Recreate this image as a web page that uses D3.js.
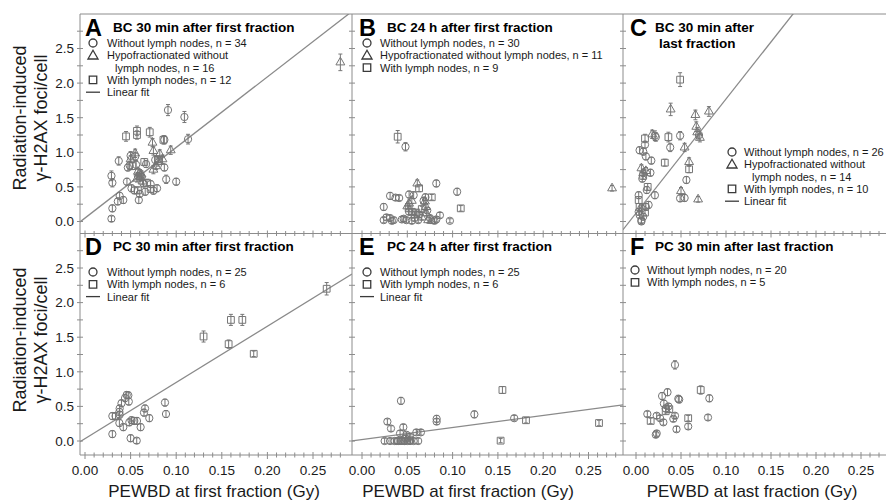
<!DOCTYPE html>
<html><head><meta charset="utf-8">
<script src="https://cdn.jsdelivr.net/npm/d3@7"></script>
<style>body{margin:0;background:#fff}svg{display:block}text{font-family:"Liberation Sans",Arial,sans-serif}</style>
</head><body><svg id="c" width="886" height="502"></svg>
<script>
// ---------- data: [PEWBD (Gy), foci/cell, error] ----------
const A_circle=[[0.091,1.61,0.08],[0.109,1.51,0.08],[0.113,1.19,0.07],[0.087,1.18,0.06],[0.037,0.875,0.06],[0.050,0.95,0.06],[0.055,0.94,0.06],[0.067,0.83,0.05],[0.077,0.89,0.06],[0.087,0.78,0.05],[0.089,0.61,0.06],[0.100,0.575,0.05],[0.029,0.66,0.07],[0.030,0.56,0.06],[0.046,0.575,0.05],[0.051,0.48,0.05],[0.038,0.37,0.05],[0.042,0.31,0.05],[0.036,0.29,0.05],[0.059,0.31,0.05],[0.030,0.19,0.05],[0.029,0.04,0.04],[0.066,0.43,0.05],[0.075,0.445,0.05],[0.079,0.48,0.05],[0.056,0.82,0.06],[0.049,0.81,0.06],[0.058,0.66,0.05],[0.062,0.64,0.05],[0.054,0.45,0.05],[0.060,0.40,0.05],[0.064,0.55,0.05],[0.072,0.54,0.05],[0.047,0.78,0.05]];
const A_triangle=[[0.074,1.14,0.06],[0.075,1.02,0.06],[0.094,1.03,0.06],[0.082,0.975,0.06],[0.055,0.985,0.06],[0.060,0.70,0.05],[0.058,0.72,0.05],[0.062,0.68,0.05],[0.057,0.62,0.05],[0.075,0.75,0.06],[0.080,0.86,0.06],[0.085,0.90,0.06],[0.063,0.58,0.05],[0.078,0.80,0.05],[0.050,0.90,0.05],[0.280,2.30,0.12]];
const A_square=[[0.045,1.23,0.07],[0.057,1.31,0.07],[0.057,1.25,0.06],[0.071,1.29,0.07],[0.086,1.18,0.06],[0.068,0.56,0.05],[0.052,0.80,0.05],[0.060,0.65,0.05],[0.065,0.86,0.05],[0.072,0.47,0.05],[0.080,0.90,0.05],[0.058,0.45,0.05]];

const B_circle=[[0.048,1.08,0.06],[0.082,0.55,0.05],[0.105,0.43,0.05],[0.031,0.37,0.05],[0.037,0.345,0.04],[0.041,0.34,0.04],[0.052,0.39,0.05],[0.057,0.38,0.05],[0.024,0.21,0.05],[0.024,0.02,0.04],[0.031,0.05,0.04],[0.033,0.01,0.04],[0.046,0.04,0.04],[0.049,0.02,0.04],[0.055,0.01,0.04],[0.080,0.01,0.04],[0.086,0.09,0.04],[0.097,0.01,0.03],[0.027,0.06,0.04],[0.044,0.03,0.04],[0.052,0.14,0.04],[0.058,0.05,0.04],[0.063,0.10,0.04],[0.068,0.30,0.05],[0.072,0.16,0.04],[0.075,0.05,0.04],[0.062,0.02,0.04],[0.035,0.02,0.04],[0.070,0.35,0.05],[0.082,0.03,0.04]];
const B_triangle=[[0.061,0.55,0.05],[0.052,0.26,0.05],[0.0695,0.29,0.05],[0.0706,0.21,0.05],[0.071,0.12,0.04],[0.073,0.02,0.04],[0.077,0.01,0.04],[0.050,0.22,0.04],[0.066,0.06,0.04],[0.055,0.30,0.04],[0.276,0.48,0.04]];
const B_square=[[0.0394,1.225,0.09],[0.063,0.48,0.05],[0.109,0.19,0.04],[0.077,0.35,0.04],[0.0515,0.19,0.04],[0.055,0.14,0.04],[0.060,0.13,0.04],[0.066,0.18,0.04],[0.058,0.10,0.04]];

const C_circle=[[0.021,1.24,0.07],[0.022,1.22,0.06],[0.049,1.24,0.06],[0.038,1.07,0.06],[0.004,1.03,0.05],[0.008,1.01,0.05],[0.010,1.11,0.05],[0.011,0.94,0.05],[0.017,0.88,0.05],[0.016,0.705,0.05],[0.007,0.62,0.05],[0.056,0.60,0.05],[0.021,0.38,0.05],[0.049,0.335,0.05],[0.054,0.34,0.05],[0.003,0.38,0.05],[0.012,0.455,0.05],[0.006,0.19,0.05],[0.011,0.21,0.05],[0.014,0.24,0.05],[0.004,0.094,0.05],[0.008,0.07,0.05],[0.006,0.02,0.04],[0.003,0.14,0.05],[0.006,0.0,0.04],[0.070,1.25,0.06]];
const C_triangle=[[0.0385,1.62,0.09],[0.066,1.54,0.07],[0.081,1.59,0.07],[0.018,1.26,0.06],[0.054,1.07,0.06],[0.067,1.37,0.07],[0.068,1.29,0.07],[0.071,1.21,0.06],[0.059,0.86,0.06],[0.006,0.77,0.05],[0.008,0.70,0.05],[0.050,0.44,0.05],[0.069,0.32,0.04],[0.011,0.73,0.05]];
const C_square=[[0.049,2.05,0.1],[0.036,1.22,0.07],[0.010,1.20,0.06],[0.032,0.85,0.05],[0.059,0.755,0.05],[0.013,0.50,0.05],[0.003,0.31,0.05],[0.004,0.21,0.05],[0.010,0.13,0.05],[0.008,0.66,0.05]];

const D_circle=[[0.0877,0.555,0.05],[0.0888,0.39,0.05],[0.0658,0.47,0.05],[0.0647,0.41,0.05],[0.0705,0.33,0.05],[0.0457,0.665,0.05],[0.0475,0.66,0.05],[0.048,0.57,0.05],[0.0439,0.62,0.05],[0.040,0.545,0.05],[0.038,0.47,0.05],[0.0377,0.42,0.05],[0.030,0.36,0.05],[0.0336,0.36,0.05],[0.038,0.38,0.05],[0.0377,0.26,0.05],[0.042,0.20,0.05],[0.0486,0.27,0.05],[0.051,0.30,0.05],[0.054,0.29,0.05],[0.057,0.29,0.05],[0.061,0.20,0.05],[0.030,0.10,0.05],[0.050,0.04,0.05],[0.0567,0.005,0.04]];
const D_square=[[0.130,1.51,0.08],[0.160,1.75,0.08],[0.1725,1.75,0.08],[0.1575,1.40,0.06],[0.185,1.26,0.04],[0.265,2.20,0.09]];

const E_circle=[[0.043,0.58,0.05],[0.0824,0.32,0.05],[0.0824,0.28,0.04],[0.028,0.28,0.04],[0.032,0.18,0.04],[0.0456,0.20,0.04],[0.060,0.125,0.04],[0.065,0.125,0.04],[0.042,0.11,0.04],[0.049,0.09,0.04],[0.053,0.06,0.04],[0.025,0.0,0.04],[0.031,0.0,0.04],[0.036,0.0,0.04],[0.040,0.0,0.04],[0.043,0.0,0.04],[0.047,0.0,0.04],[0.050,0.0,0.04],[0.053,0.0,0.04],[0.057,0.0,0.04],[0.062,0.0,0.04],[0.048,0.04,0.04],[0.124,0.385,0.05],[0.168,0.33,0.04],[0.0385,0.0,0.04]];
const E_square=[[0.155,0.737,0.05],[0.181,0.30,0.04],[0.153,0.005,0.03],[0.2616,0.26,0.04],[0.045,0.0,0.03],[0.052,0.02,0.03]];

const F_circle=[[0.0433,1.10,0.06],[0.0815,0.617,0.05],[0.048,0.60,0.05],[0.029,0.65,0.05],[0.035,0.705,0.05],[0.031,0.54,0.05],[0.033,0.47,0.05],[0.0126,0.39,0.04],[0.023,0.365,0.04],[0.0267,0.33,0.04],[0.0304,0.27,0.04],[0.0415,0.32,0.04],[0.0433,0.365,0.04],[0.058,0.21,0.04],[0.045,0.17,0.04],[0.080,0.34,0.04],[0.022,0.09,0.04],[0.023,0.11,0.04],[0.047,0.61,0.05],[0.036,0.50,0.04]];
const F_square=[[0.0719,0.737,0.06],[0.033,0.43,0.04],[0.0163,0.29,0.04],[0.058,0.33,0.04],[0.037,0.46,0.04]];

// linear fits: [intercept, slope]
const fitA=[0.05,10.2], fitC=[0.12,16.5], fitD=[0.035,8.12], fitE=[0.02,1.74];

const yTickLabels=["0.0","0.5","1.0","1.5","2.0","2.5"];
const xTickLabels=["0.00","0.05","0.10","0.15","0.20","0.25"];

const panels=[
 {letter:"A",col:0,row:0,title:["BC 30 min after first fraction"],series:{circle:A_circle,triangle:A_triangle,square:A_square},fit:fitA,
  legend:{x:93,y:43,tx:107,items:[["circle","Without lymph nodes, n = 34"],["triangle","Hypofractionated without"],[null,"lymph nodes, n = 16"],["square","With lymph nodes, n = 12"],["line","Linear fit"]]}},
 {letter:"B",col:1,row:0,title:["BC 24 h after first fraction"],series:{circle:B_circle,triangle:B_triangle,square:B_square},fit:null,
  legend:{x:367,y:43,tx:380,items:[["circle","Without lymph nodes, n = 30"],["triangle","Hypofractionated without lymph nodes, n = 11"],["square","With lymph nodes, n = 9"]]}},
 {letter:"C",col:2,row:0,title:["BC 30 min after","last fraction"],series:{circle:C_circle,triangle:C_triangle,square:C_square},fit:fitC,
  legend:{x:732,y:152,tx:744,items:[["circle","Without lymph nodes, n = 26"],["triangle","Hypofractionated without"],[null,"lymph nodes, n = 14"],["square","With lymph nodes, n = 10"],["line","Linear fit"]]}},
 {letter:"D",col:0,row:1,title:["PC 30 min after first fraction"],series:{circle:D_circle,square:D_square},fit:fitD,
  legend:{x:93,y:272,tx:107,items:[["circle","Without lymph nodes, n = 25"],["square","With lymph nodes, n = 6"],["line","Linear fit"]]}},
 {letter:"E",col:1,row:1,title:["PC 24 h after first fraction"],series:{circle:E_circle,square:E_square},fit:fitE,
  legend:{x:367,y:272,tx:380,items:[["circle","Without lymph nodes, n = 25"],["square","With lymph nodes, n = 6"],["line","Linear fit"]]}},
 {letter:"F",col:2,row:1,title:["PC 30 min after last fraction"],series:{circle:F_circle,square:F_square},fit:null,
  legend:{x:635,y:270,tx:647,items:[["circle","Without lymph nodes, n = 20"],["square","With lymph nodes, n = 5"]]}}
];

// ---------- layout ----------
const colLeft=[80,352,623], colRight=[352,623,895], colZero=[85,362,636], colK=[912,906,900];
const rowTop=[14,233.5], rowBot=[233.5,455], rowZero=[221.5,441], rowK=69.2;
const xTitles=["PEWBD at first fraction (Gy)","PEWBD at first fraction (Gy)","PEWBD at last fraction (Gy)"];
const xTitleX=[214,468,752];
const AX="#8c8c8c", PT="#767676", LEG="#3a3a3a", TXT="#1a1a1a";

const svg=d3.select("#c");
function xs(c){return d3.scaleLinear().domain([(colLeft[c]-colZero[c])/colK[c],(colRight[c]-colZero[c])/colK[c]]).range([colLeft[c],colRight[c]]);}
function ys(r){return d3.scaleLinear().domain([(rowZero[r]-rowBot[r])/rowK,(rowZero[r]-rowTop[r])/rowK]).range([rowBot[r],rowTop[r]]);}

const sym={
 circle:d3.symbol().type(d3.symbolCircle).size(42),
 triangle:d3.symbol().type(d3.symbolTriangle).size(34),
 square:d3.symbol().type(d3.symbolSquare).size(46)
};
const symLeg={
 circle:d3.symbol().type(d3.symbolCircle).size(50),
 triangle:d3.symbol().type(d3.symbolTriangle).size(44),
 square:d3.symbol().type(d3.symbolSquare).size(56)
};

const defs=svg.append("defs");
panels.forEach((p,i)=>{
  defs.append("clipPath").attr("id","cl"+i).append("rect")
   .attr("x",colLeft[p.col]).attr("y",rowTop[p.row]).attr("width",colRight[p.col]-colLeft[p.col]).attr("height",rowBot[p.row]-rowTop[p.row]);
});

svg.append("line").attr("x1",80).attr("x2",886).attr("y1",14).attr("y2",14).attr("stroke",AX);

panels.forEach((p,i)=>{
  const x=xs(p.col), y=ys(p.row);
  const g=svg.append("g");
  g.append("line").attr("x1",colLeft[p.col]).attr("x2",colLeft[p.col]).attr("y1",rowTop[p.row]).attr("y2",rowBot[p.row]).attr("stroke",AX);
  d3.range(0,2.76,0.25).forEach(v=>{
    g.append("line").attr("x1",colLeft[p.col]-3).attr("x2",colLeft[p.col]+3).attr("y1",y(v)).attr("y2",y(v)).attr("stroke",AX);
  });
  g.append("line").attr("x1",colLeft[p.col]).attr("x2",colRight[p.col]).attr("y1",rowBot[p.row]).attr("y2",rowBot[p.row]).attr("stroke",AX);
  d3.range(0,29).forEach(k=>{
    const v=k/100, px=x(v); if(px>colRight[p.col]-1) return;
    const major=k%5===0;
    g.append("line").attr("x1",px).attr("x2",px).attr("y1",rowBot[p.row]-(major?3:2.5)).attr("y2",rowBot[p.row]+(major?4:2.5)).attr("stroke",AX);
  });
  if(p.col===0){
    yTickLabels.forEach(t=>{
      g.append("text").attr("x",74).attr("y",y(+t)).attr("dy","0.36em").attr("text-anchor","end")
       .attr("font-size",13.5).attr("fill",TXT).text(t);
    });
  }
  if(p.row===1){
    xTickLabels.forEach(t=>{
      g.append("text").attr("x",x(+t)).attr("y",475).attr("text-anchor","middle").attr("font-size",13.5).attr("fill",TXT).text(t);
    });
  }
  const pg=svg.append("g").attr("clip-path","url(#cl"+i+")");
  if(p.fit){
    const d=x.domain();
    pg.append("line").attr("x1",x(d[0])).attr("y1",y(p.fit[0]+p.fit[1]*d[0]))
      .attr("x2",x(d[1])).attr("y2",y(p.fit[0]+p.fit[1]*d[1])).attr("stroke","#8a8a8a").attr("stroke-width",1.3);
  }
  Object.entries(p.series).forEach(([k,arr])=>{
    const sg=pg.append("g").selectAll("g").data(arr).join("g").attr("transform",d=>`translate(${x(d[0])},${y(d[1])})`);
    sg.append("path").attr("d",sym[k]()).attr("fill","none").attr("stroke",PT).attr("stroke-width",1);
    sg.append("line").attr("x1",0).attr("x2",0).attr("y1",d=>y(d[1]+d[2])-y(d[1])).attr("y2",d=>y(d[1]-d[2])-y(d[1])).attr("stroke",PT).attr("stroke-width",1);
    sg.append("line").attr("x1",-2).attr("x2",2).attr("y1",d=>y(d[1]+d[2])-y(d[1])).attr("y2",d=>y(d[1]+d[2])-y(d[1])).attr("stroke",PT);
    sg.append("line").attr("x1",-2).attr("x2",2).attr("y1",d=>y(d[1]-d[2])-y(d[1])).attr("y2",d=>y(d[1]-d[2])-y(d[1])).attr("stroke",PT);
  });
  const lx=colLeft[p.col]+(p.col===0?5:7), ty=rowTop[p.row];
  svg.append("text").attr("x",lx).attr("y",ty+21.5).attr("font-size",23.5).attr("font-weight","bold").attr("fill","#000").text(p.letter);
  p.title.forEach((t,j)=>{
    svg.append("text").attr("x",lx+(p.col===2?25:28)+(j*4)).attr("y",ty+17.5+j*16).attr("font-size",13.5).attr("font-weight","bold").attr("fill","#000").text(t);
  });
  const L=p.legend;
  L.items.forEach((it,j)=>{
    const cy=L.y+j*12.3;
    if(it[0]==="line"){
      svg.append("line").attr("x1",L.x-7).attr("x2",L.x+7).attr("y1",cy).attr("y2",cy).attr("stroke",LEG).attr("stroke-width",1.3);
    } else if(it[0]){
      svg.append("path").attr("d",symLeg[it[0]]()).attr("transform",`translate(${L.x},${cy+(it[0]==="triangle"?0.8:0)})`).attr("fill","none").attr("stroke",LEG).attr("stroke-width",1.3);
    }
    svg.append("text").attr("x",it[0]?L.tx:L.tx+8).attr("y",cy).attr("dy","0.36em").attr("font-size",11).attr("fill",TXT).text(it[1]);
  });
});

xTitles.forEach((t,i)=>{
  svg.append("text").attr("x",xTitleX[i]).attr("y",497).attr("text-anchor","middle").attr("font-size",17).attr("fill",TXT).text(t);
});
[118,340].forEach(cy=>{
  svg.append("text").attr("transform",`translate(26,${cy}) rotate(-90)`).attr("text-anchor","middle").attr("font-size",18).attr("fill",TXT).text("Radiation-induced");
  svg.append("text").attr("transform",`translate(47,${cy}) rotate(-90)`).attr("text-anchor","middle").attr("font-size",18).attr("fill",TXT).text("γ-H2AX foci/cell");
});
</script></body></html>
